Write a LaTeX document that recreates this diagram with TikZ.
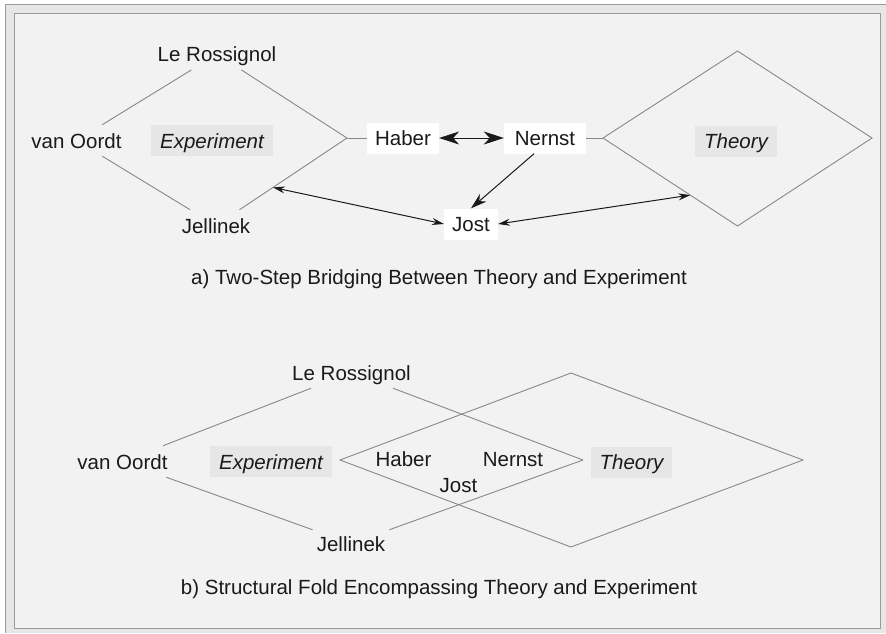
\documentclass[tikz,border=0pt]{standalone}
\usepackage{fontspec}
\setmainfont{Liberation Sans}
\usetikzlibrary{arrows.meta,calc}
\definecolor{panel}{HTML}{F2F2F2}
\definecolor{band}{HTML}{E6E6E6}
\definecolor{frameline}{HTML}{9A9A9A}
\definecolor{edgegray}{HTML}{888888}
\definecolor{ink}{HTML}{1A1A1A}
\definecolor{tagfill}{HTML}{E6E6E6}
\begin{document}
\begin{tikzpicture}[x=1pt,y=-1pt,
  every node/.style={font=\fontsize{20.5}{24}\selectfont, text=ink},
  lbl/.style={text height=15pt, text depth=0pt, inner xsep=4pt, inner ysep=8pt},
  namebox/.style={lbl, fill=white, inner xsep=8pt},
  tagbox/.style={lbl, fill=tagfill, inner xsep=9pt, font=\fontsize{20.5}{24}\selectfont\itshape},
  edge/.style={draw=edgegray, line width=0.9pt},
  link/.style={draw=ink, line width=1pt},
  bigdbl/.style={link, {Stealth[length=20pt,width=13pt,inset=6pt]}-{Stealth[length=20pt,width=13pt,inset=6pt]}},
  midarrow/.style={link, -{Stealth[length=16pt,width=10pt,inset=5pt]}},
  smalldbl/.style={link, {Stealth[length=12pt,width=7pt,inset=4pt]}-{Stealth[length=12pt,width=7pt,inset=4pt]}}
]
\useasboundingbox (0,0) rectangle (886,633);
% frame
\fill[white] (0,0) rectangle (886,633);
\fill[band] (5,4) rectangle (886,633);
\draw[frameline, line width=1pt] (5.5,633) -- (5.5,4.5) -- (886,4.5);
\filldraw[fill=panel, draw=frameline, line width=1.3pt] (14.5,13.5) rectangle (880.5,628.5);

% ---------- panel a ----------
\node[lbl] (LeRa)  at (217,54.2)  {Le Rossignol};
\node[lbl] (vanOa) at (76.5,140.5) {van Oordt};
\node[lbl] (Jela)  at (216,225.5) {Jellinek};
\node[tagbox] (Expa) at (212,140.5) {Experiment};
\coordinate (expR) at (347,138);

\coordinate (thLa) at (603,138);
\coordinate (thTa) at (737.5,51);
\coordinate (thRa) at (872,138);
\coordinate (thBa) at (737.5,226);
\node[tagbox] (Theorya) at (736,141) {Theory};

\node[namebox] (Habera) at (403,138) {Haber};
\node[namebox, minimum width=82pt] (Nernsta) at (545,138) {Nernst};
\node[namebox] (Josta) at (471,224) {Jost};

\draw[edge] (LeRa) -- (vanOa);
\draw[edge] (vanOa) -- (Jela);
\draw[edge] (LeRa) -- (expR);
\draw[edge] (expR) -- (Jela);
\draw[edge] (expR) -- (Habera);
\draw[edge] (thLa) -- (thTa) -- (thRa) -- (thBa) -- cycle;
\draw[edge] (Nernsta) -- (thLa);

\coordinate (hitE) at ($(expR)!0.565!(Jela)$);
\coordinate (hitT) at ($(thLa)!0.649!(thBa)$);
\draw[bigdbl] (Habera) -- (Nernsta);
\draw[midarrow] ([xshift=-11pt]Nernsta.south) -- (Josta.north);
\draw[smalldbl] (Josta.west) -- (hitE);
\draw[smalldbl] (Josta.east) -- (hitT);

\node[lbl] (capa) at (439,276.5) {a) Two-Step Bridging Between Theory and Experiment};

% ---------- panel b ----------
\node[lbl] (LeRb)  at (351.5,372.5) {Le Rossignol};
\node[lbl] (vanOb) at (122.5,461.5) {van Oordt};
\node[lbl] (Jelb)  at (351,543.5) {Jellinek};
\node[tagbox] (Expb) at (271,461.5) {Experiment};
\coordinate (expRb) at (583,460);

\coordinate (thLb) at (340,460);
\coordinate (thTb) at (571,373);
\coordinate (thRb) at (803,460);
\coordinate (thBb) at (571,547);
\node[tagbox] (Theoryb) at (631.5,462) {Theory};

\draw[edge] (LeRb) -- (vanOb);
\draw[edge] (vanOb) -- (Jelb);
\draw[edge] (LeRb) -- (expRb);
\draw[edge] (expRb) -- (Jelb);
\draw[edge] (thLb) -- (thTb) -- (thRb) -- (thBb) -- cycle;

\node[lbl] (Haberb)  at (403.5,458.5) {Haber};
\node[lbl] (Nernstb) at (513,458.5) {Nernst};
\node[lbl] (Jostb)   at (458.5,484.5) {Jost};

\node[lbl] (capb) at (439,586.5) {b) Structural Fold Encompassing Theory and Experiment};
\end{tikzpicture}
\end{document}
